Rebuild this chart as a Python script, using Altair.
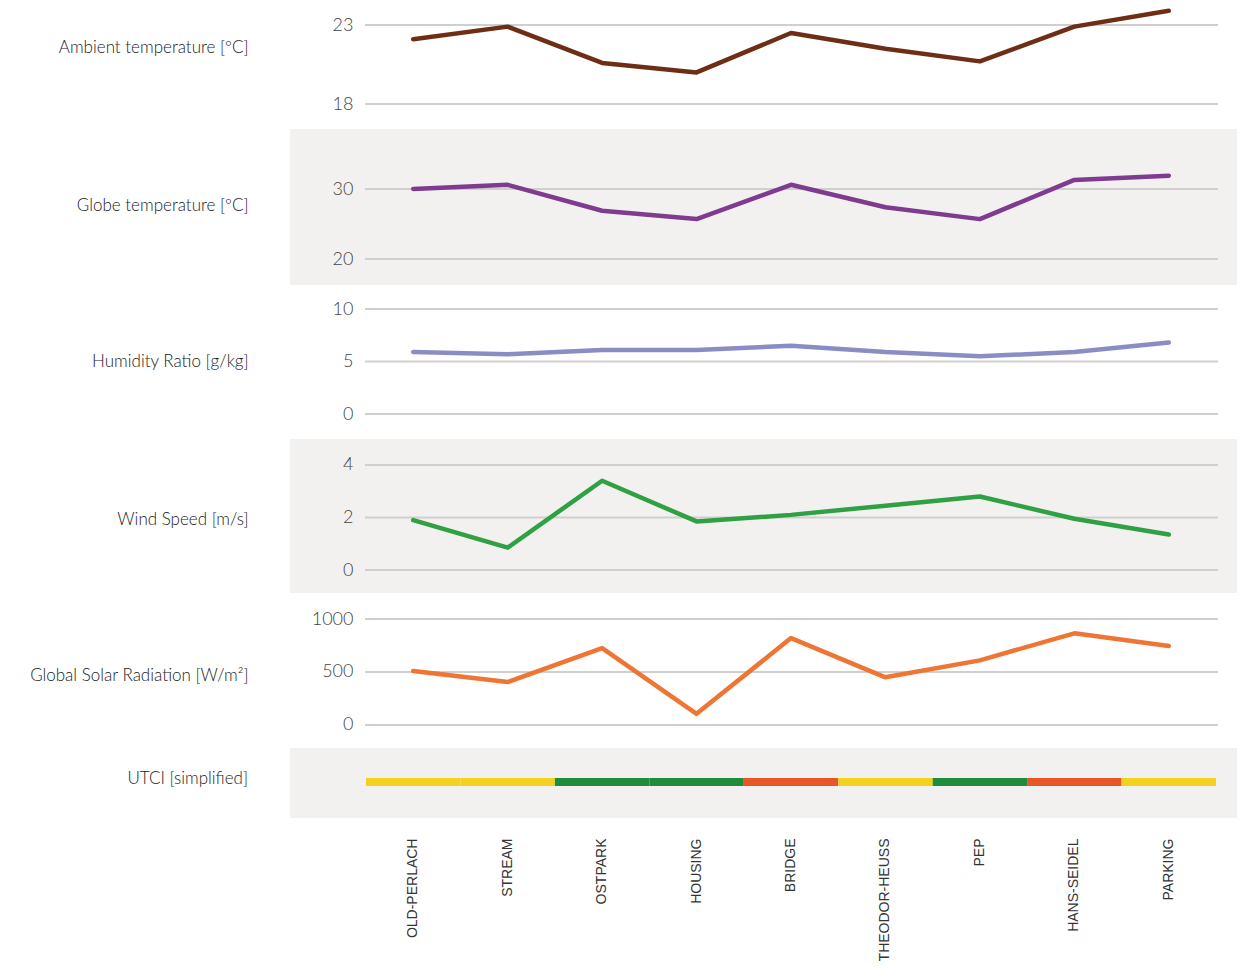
import altair as alt
import pandas as pd

locations = ["OLD-PERLACH", "STREAM", "OSTPARK", "HOUSING", "BRIDGE",
             "THEODOR-HEUSS", "PEP", "HANS-SEIDEL", "PARKING"]
ambient = [22.1, 22.9, 20.6, 20.0, 22.5, 21.5, 20.7, 22.9, 23.9]
globe = [30.0, 30.6, 26.9, 25.7, 30.6, 27.4, 25.7, 31.3, 31.9]
humidity = [5.9, 5.7, 6.1, 6.1, 6.5, 5.9, 5.5, 5.9, 6.8]
wind = [1.9, 0.85, 3.4, 1.85, 2.1, 2.45, 2.8, 1.95, 1.35]
solar = [510, 405, 725, 105, 820, 450, 610, 865, 745]
utci = ["moderate", "moderate", "comfortable", "comfortable", "strong",
        "moderate", "comfortable", "strong", "moderate"]

utci_classes = ["comfortable", "moderate", "strong"]
utci_colors = ["#218b3c", "#f3d21f", "#e6582a"]

W = 850
LEFT_PIN = -358
GRAY_LEFT = -76
GRAY_RIGHT = 871
GRAY = "#f2f1ef"
GRID = "#cfcfcf"
TICK_FONT = "Lato"
TITLE_SIZE = 17
TITLE_COLOR = "#222222"

xenc = alt.X("loc:N", sort=locations,
             scale=alt.Scale(paddingInner=0, paddingOuter=0), axis=None)


def backgrounds(h, gray):
    one = alt.Data(values=[{}])
    layers = [alt.Chart(one).mark_rect(fill="white").encode(
        x=alt.value(LEFT_PIN), x2=alt.value(GRAY_LEFT),
        y=alt.value(0), y2=alt.value(h))]
    if gray:
        layers.append(alt.Chart(one).mark_rect(fill=GRAY).encode(
            x=alt.value(GRAY_LEFT), x2=alt.value(GRAY_RIGHT),
            y=alt.value(0), y2=alt.value(h)))
    return layers


def panel(title, values, color, domain, ticks, h, gray, title_y):
    df = pd.DataFrame({"loc": locations, "v": values})
    grid_df = pd.DataFrame({"v": ticks})
    yscale = alt.Scale(domain=domain, nice=False, zero=False)
    yaxis = alt.Axis(values=ticks, format="d", grid=False, domain=False, ticks=False,
                     zindex=1,
                     labelPadding=13, labelFont=TICK_FONT, labelFontSize=18,
                     labelFontWeight=300, labelColor="#444444",
                     labelBaseline="middle",
                     title=title, titleAngle=0, titleAlign="right",
                     titleBaseline="middle", titleX=-118, titleY=title_y,
                     titleFont=TICK_FONT, titleFontSize=TITLE_SIZE,
                     titleFontWeight=300, titleColor=TITLE_COLOR)
    grid = alt.Chart(grid_df).mark_rule(color=GRID, strokeWidth=2).encode(
        y=alt.Y("v:Q", scale=yscale, axis=yaxis),
        x=alt.value(-1), x2=alt.value(W + 2))
    line = alt.Chart(df).mark_line(color=color, strokeWidth=4.5, clip=False,
                                   strokeJoin="round", strokeCap="round").encode(
        x=xenc,
        y=alt.Y("v:Q", scale=yscale, axis=yaxis))
    return alt.layer(*backgrounds(h, gray), grid, line).properties(width=W, height=h)


p1 = panel("Ambient temperature [ºC]", ambient, "#6e2e15", [16.42, 23.89], [18, 23], 118, False, 36)
p2 = panel("Globe temperature [ºC]", globe, "#7e3b8f", [16.29, 38.57], [20, 30], 156, True, 76)
p3 = panel("Humidity Ratio [g/kg]", humidity, "#8a8dc5", [-2.381, 12.286], [0, 5, 10], 154, False, 76)
p4 = panel("Wind Speed [m/s]", wind, "#2fa044", [-0.876, 4.99], [0, 2, 4], 154, True, 80)
p5 = panel("Global Solar Radiation [W/m²]", solar, "#ef7535", [-217, 1245.3], [0, 500, 1000], 155, False, 82)

# UTCI panel
H6 = 70
udf = pd.DataFrame({"loc": locations, "utci": utci})
ubar = alt.Chart(udf).mark_rect().encode(
    x=alt.X("loc:N", sort=locations,
            scale=alt.Scale(paddingInner=0, paddingOuter=0),
            axis=alt.Axis(labelAngle=-90, labelFont="Liberation Sans", labelFontSize=14,
                          labelColor="#333333", labelPadding=20, ticks=False,
                          domain=False, grid=False, title=None, zindex=1)),
    y=alt.value(30), y2=alt.value(38),
    color=alt.Color("utci:N", scale=alt.Scale(domain=utci_classes, range=utci_colors),
                    legend=None))
utitle = alt.Chart(alt.Data(values=[{"t": "UTCI [simplified]"}])).mark_text(
    align="right", baseline="middle", font=TICK_FONT, fontSize=TITLE_SIZE, fontWeight=300,
    color=TITLE_COLOR).encode(x=alt.value(-118), y=alt.value(31), text="t:N")
p6 = alt.layer(*backgrounds(H6, True), ubar, utitle).properties(width=W, height=H6)

chart = alt.vconcat(p1, p2, p3, p4, p5, p6, spacing=0, bounds="flush").properties(
    padding=0
).configure_view(stroke=None)

chart.save("out.html", embed_options={"renderer": "svg", "actions": False})
